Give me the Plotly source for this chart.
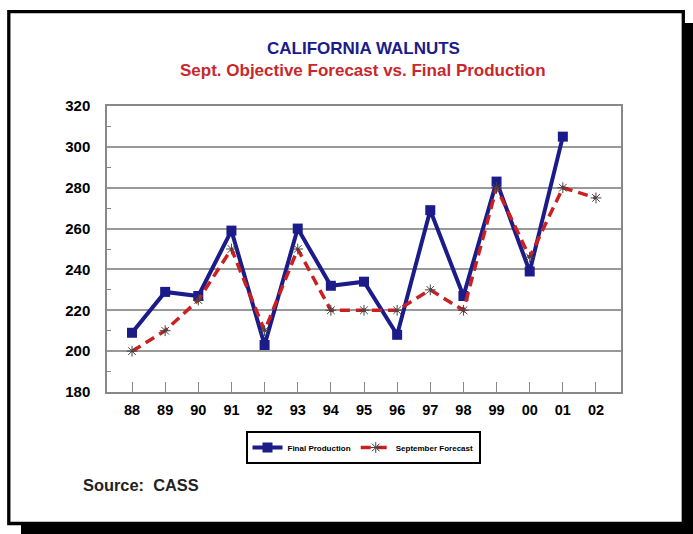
import plotly.graph_objects as go

years = ["88", "89", "90", "91", "92", "93", "94", "95", "96", "97", "98", "99", "00", "01", "02"]
final_production = [209, 229, 227, 259, 203, 260, 232, 234, 208, 269, 227, 283, 239, 305, None]
september_forecast = [200, 210, 225, 250, 210, 250, 220, 220, 220, 230, 220, 280, 246, 280, 275]

W, H = 693, 534
L, R, T, B = 107, 621, 106, 392


def px(x):
    return (x - L) / (R - L)


def py(y):
    return (B - y) / (B - T)


FONT = "Arial, Liberation Sans, sans-serif"
xs = list(range(len(years)))

fig = go.Figure()
fig.add_trace(go.Scatter(
    x=xs, y=final_production, name="Final Production", mode="lines+markers",
    line=dict(color="#1b1b8a", width=4),
    marker=dict(symbol="square", size=10, color="#1b1b8a"),
))
fig.add_trace(go.Scatter(
    x=xs, y=september_forecast, name="September Forecast", mode="lines+markers",
    line=dict(color="#cc2020", width=3.5, dash="10px,6px"),
    marker=dict(symbol="asterisk-open", size=9, color="#444444",
                line=dict(color="#444444", width=1)),
))

shapes = [
    dict(type="rect", xref="paper", yref="paper", layer="below",
         x0=px(21), x1=px(693), y0=py(534), y1=py(23),
         fillcolor="black", line=dict(width=0)),
    dict(type="rect", xref="paper", yref="paper", layer="below",
         x0=px(8.8), x1=px(683.3), y0=py(523.5), y1=py(11.7),
         fillcolor="white", line=dict(color="black", width=3.3)),
]

annotations = [
    dict(text="<b>CALIFORNIA WALNUTS</b>", xref="paper", yref="paper",
         x=px(363), y=py(48), showarrow=False, xanchor="center", yanchor="middle",
         font=dict(family=FONT, size=17, color="#1b1b8a")),
    dict(text="<b>Sept. Objective Forecast vs. Final Production</b>", xref="paper", yref="paper",
         x=px(363), y=py(70), showarrow=False, xanchor="center", yanchor="middle",
         font=dict(family=FONT, size=17, color="#c8282c")),
    dict(text="<b>Source:  CASS</b>", xref="paper", yref="paper",
         x=px(81), y=py(485), showarrow=False, xanchor="left", yanchor="middle",
         font=dict(family=FONT, size=16.4, color="#222222")),
]

fig.update_layout(
    width=W, height=H,
    margin=dict(l=L, r=W - R, t=T, b=H - B, pad=0),
    paper_bgcolor="white", plot_bgcolor="white",
    shapes=shapes, annotations=annotations,
    showlegend=True,
    legend=dict(orientation="h", x=px(363), y=py(431), xanchor="center", yanchor="top",
                bordercolor="black", borderwidth=2, bgcolor="white",
                font=dict(family=FONT, size=8, color="black", weight="bold"),
                itemwidth=30),
    xaxis=dict(
        range=[-0.755, 14.755], tickmode="array", tickvals=xs, ticktext=years,
        showgrid=False, zeroline=False, showline=True, linecolor="#888888", linewidth=1.5,
        mirror=True, ticks="inside", ticklen=10, tickcolor="#888888",
        tickfont=dict(family=FONT, size=14.5, color="black", weight="bold"),
        ticklabelstandoff=4,
    ),
    yaxis=dict(
        range=[180, 320], dtick=20, tick0=180,
        showgrid=True, gridcolor="#999999", gridwidth=1.5,
        zeroline=False, showline=True, linecolor="#888888", linewidth=1.5, mirror=True,
        ticks="", tickfont=dict(family=FONT, size=15, color="black", weight="bold"),
        ticklabelstandoff=12,
        minor=dict(ticks="inside", dtick=10, ticklen=4, tickcolor="#888888", showgrid=False),
    ),
)

fig.write_html("out.html", config={"displayModeBar": False},
               post_script="document.body.style.margin='0px';")
